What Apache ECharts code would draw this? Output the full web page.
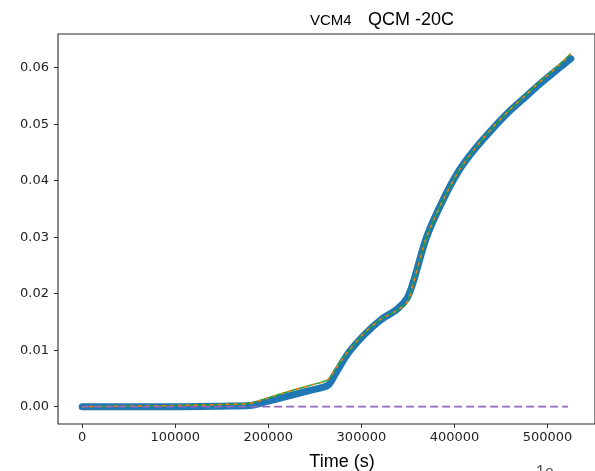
<!DOCTYPE html>
<html>
<head>
<meta charset="utf-8">
<script src="https://cdn.jsdelivr.net/npm/echarts@6/dist/echarts.min.js"></script>
<style>html,body{margin:0;padding:0;background:#fff;}#c{width:595px;height:471px;}</style>
</head>
<body>
<div id="c"></div>
<script>
const timeS = [0, 50000, 100000, 150000, 180000, 200000, 222000, 245000, 264000, 272000, 286000, 303500, 321000, 338600, 349000, 356000, 370000, 387800, 405300, 422900, 440500, 458000, 475500, 493100, 510700, 525000];
const measured = [0.0000, 0.0000, 0.0000, 0.0001, 0.0002, 0.0010, 0.0019, 0.0029, 0.0038, 0.0058, 0.0095, 0.0128, 0.0154, 0.0173, 0.0192, 0.0222, 0.0300, 0.0366, 0.0419, 0.0458, 0.0491, 0.0521, 0.0547, 0.0573, 0.0597, 0.0616];
const modelA = [0.0000, 0.0001, 0.0002, 0.0004, 0.0006, 0.0016, 0.0027, 0.0038, 0.0048, 0.0067, 0.0098, 0.0131, 0.0155, 0.0171, 0.0185, 0.0220, 0.0300, 0.0366, 0.0419, 0.0459, 0.0493, 0.0523, 0.0550, 0.0577, 0.0602, 0.0624];
const modelB = [0.0000, 0.0001, 0.0002, 0.0004, 0.0006, 0.0016, 0.0027, 0.0038, 0.0048, 0.0067, 0.0098, 0.0131, 0.0155, 0.0171, 0.0185, 0.0220, 0.0300, 0.0366, 0.0419, 0.0459, 0.0493, 0.0523, 0.0550, 0.0577, 0.0602, 0.0625];
const baselineX = [0, 522000];
const baselineY = [0, 0];
const xTicks = [0, 100000, 200000, 300000, 400000, 500000];
const yTicks = [0, 0.01, 0.02, 0.03, 0.04, 0.05, 0.06];

const zip = (xs, ys) => xs.map((x, i) => [x, ys[i]]);
const chart = echarts.init(document.getElementById('c'), null, {renderer: 'canvas'});
const font = 'DejaVu Sans';
const smoothCfg = {smooth: 0.3};
chart.setOption({
  animation: false,
  backgroundColor: '#fff',
  grid: {left: 58, top: 34, width: 547, height: 390, show: true, borderColor: '#2b2b2b', borderWidth: 1.1, backgroundColor: 'transparent'},
  xAxis: {
    type: 'value', min: -26000, max: 551000,
    splitLine: {show: false},
    axisLine: {show: false, onZero: false},
    axisTick: {show: true, length: 4, lineStyle: {color: '#2b2b2b'}, customValues: xTicks},
    axisLabel: {customValues: xTicks, color: '#222', fontFamily: font, fontSize: 13, margin: 7,
      formatter: v => String(Math.round(v))}
  },
  yAxis: {
    type: 'value', min: -0.00306, max: 0.06596,
    splitLine: {show: false},
    axisLine: {show: false, onZero: false},
    axisTick: {show: true, length: 4, lineStyle: {color: '#2b2b2b'}, customValues: yTicks},
    axisLabel: {customValues: yTicks, color: '#222', fontFamily: font, fontSize: 13, margin: 9,
      formatter: v => v.toFixed(2)}
  },
  graphic: [
    {type: 'text', x: 310, y: 21, style: {text: 'VCM4', font: '15px "Liberation Sans"', fill: '#000', verticalAlign: 'middle'}},
    {type: 'text', x: 368, y: 20, style: {text: 'QCM -20C', font: '18px "Liberation Sans"', fill: '#000', verticalAlign: 'middle'}},
    {type: 'text', x: 342, y: 462, style: {text: 'Time (s)', font: '18px "Liberation Sans"', fill: '#000', align: 'center', verticalAlign: 'middle'}},
    {type: 'text', x: 536, y: 465, style: {text: '1e', font: '16px "Liberation Sans"', fill: '#555', verticalAlign: 'top'}}
  ],
  series: [
    Object.assign({type: 'line', data: zip(timeS, measured), showSymbol: false, lineStyle: {color: '#1f77b4', width: 7, cap: 'round', join: 'round'}, z: 2}, smoothCfg),
    Object.assign({type: 'line', data: zip(timeS, modelB), showSymbol: false, lineStyle: {color: '#2ca02c', width: 1.5}, z: 3}, smoothCfg),
    Object.assign({type: 'line', data: zip(timeS, modelA), showSymbol: false, lineStyle: {color: '#ff7f0e', width: 1.5, type: [3, 5]}, z: 4}, smoothCfg),
    {type: 'line', data: zip(baselineX, baselineY), showSymbol: false, lineStyle: {color: '#9467bd', width: 1.8, type: [8, 4]}, z: 5}
  ]
});
</script>
</body>
</html>
